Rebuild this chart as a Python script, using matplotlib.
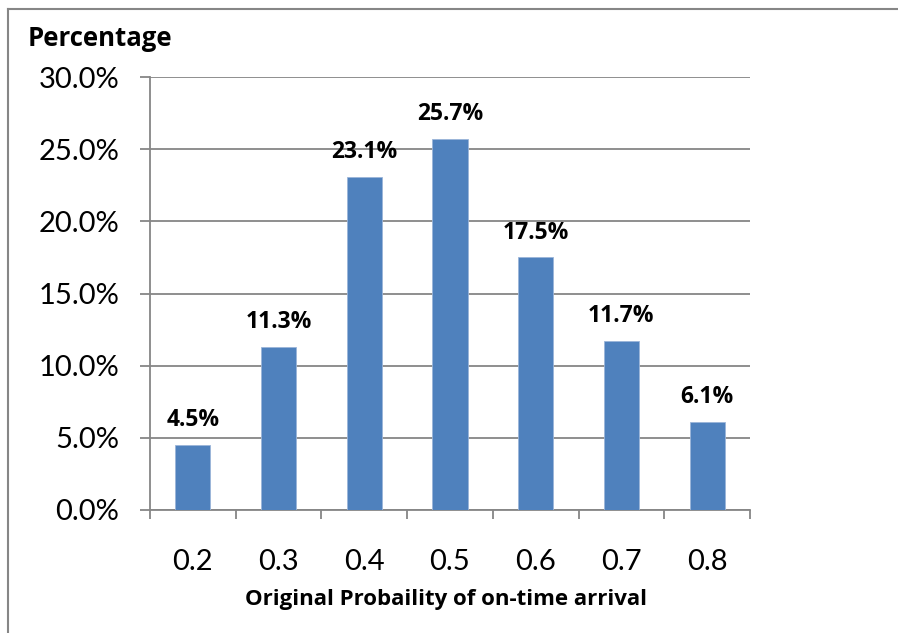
import matplotlib.pyplot as plt
from matplotlib.lines import Line2D
from matplotlib.ticker import FuncFormatter

categories = ["0.2", "0.3", "0.4", "0.5", "0.6", "0.7", "0.8"]
pourcentages = [4.5, 11.3, 23.1, 25.7, 17.5, 11.7, 6.1]
y_ticks = [0, 5, 10, 15, 20, 25, 30]

plt.rcParams['font.family'] = ['Lato', 'DejaVu Sans']
gras = ['Open Sans', 'DejaVu Sans']

gris = "#868686"
bleu = "#4F81BD"


def main():
    fig = plt.figure(figsize=(8.98, 6.33), dpi=100)
    ax = fig.add_axes([150 / 898, 1 - 510 / 633, 600 / 898, 433 / 633])

    x = list(range(len(categories)))
    barres = ax.bar(x, pourcentages, width=0.41, color=bleu, edgecolor="#9BB5D9", linewidth=0.6, zorder=3)

    # étiquettes de valeur au-dessus des barres
    for b, v in zip(barres, pourcentages):
        ax.annotate("{:.1f}%".format(v), (b.get_x() + b.get_width() / 2, v),
                    xytext=(0, 13.5), textcoords="offset points",
                    ha="center", va="baseline", fontsize=16.5, fontweight="bold", family=gras)

    ax.set_xlim(-0.5, len(categories) - 0.5)
    ax.set_ylim(0, 30)
    ax.set_yticks(y_ticks)
    ax.yaxis.set_major_formatter(FuncFormatter(lambda v, p: "{:.1f}%".format(v)))
    ax.grid(axis="y", color=gris, linewidth=1.3, zorder=0)

    ax.set_xticks(x)
    ax.set_xticklabels(categories)
    ax.set_xticks([i - 0.5 for i in range(len(categories) + 1)], minor=True)

    ax.tick_params(axis="y", length=7.2, width=1.3, color=gris, pad=15, labelsize=21)
    ax.tick_params(axis="x", which="major", length=0, pad=28, labelsize=21)
    ax.tick_params(axis="x", which="minor", length=6.5, width=1.3, color=gris)

    for s in ["top", "right"]:
        ax.spines[s].set_visible(False)
    for s in ["left", "bottom"]:
        ax.spines[s].set_color(gris)
        ax.spines[s].set_linewidth(1.3)

    fig.text(28 / 898, 1 - 46 / 633, "Percentage", fontsize=18.5, fontweight="bold", family=gras, va="baseline")
    fig.text(446 / 898, 1 - 605 / 633, "Original Probaility of on-time arrival",
             fontsize=16, fontweight="bold", family=gras, ha="center", va="baseline")

    # cadre du graphique (gauche et haut)
    fig.add_artist(Line2D([8 / 898, 8 / 898], [0, 1 - 9 / 633], color=gris, linewidth=1.5))
    fig.add_artist(Line2D([8 / 898, 1], [1 - 9 / 633, 1 - 9 / 633], color=gris, linewidth=1.5))

    fig.savefig("out.png", dpi=100)


if __name__ == "__main__":
    main()
